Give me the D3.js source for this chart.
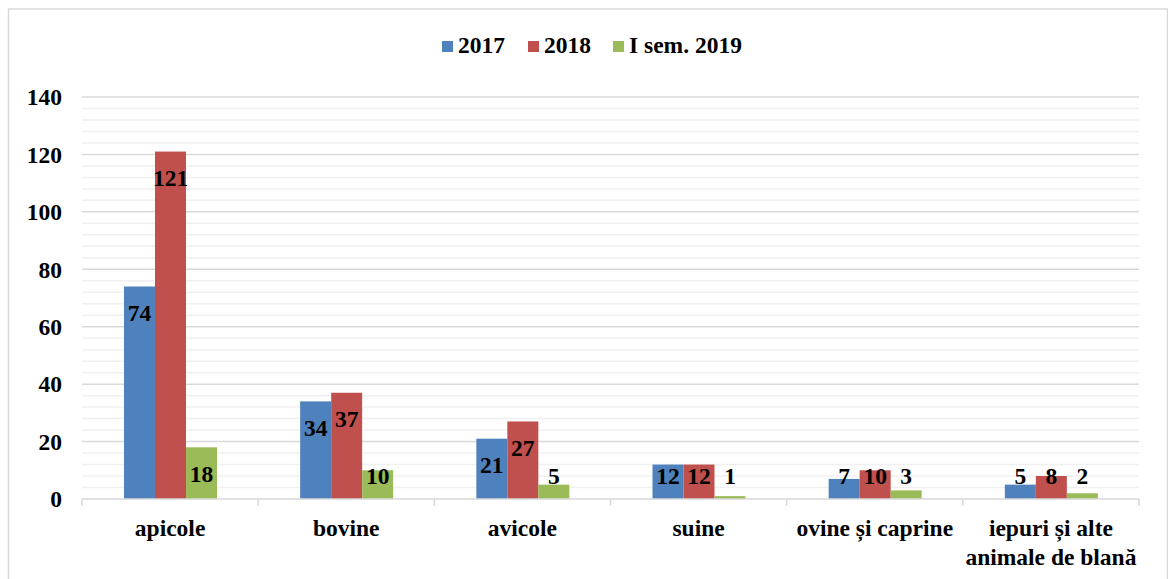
<!DOCTYPE html>
<head>
  <meta charset="utf-8">
  <script src="https://d3js.org/d3.v7.min.js"></script>
  <style>
    body { margin:0; background:#fff; }
    text { font-family: "Liberation Serif", "Times New Roman", serif; font-weight: bold; fill: #000; }
  </style>
</head>
<body>
<script>
// data
var categories = ["apicole", "bovine", "avicole", "suine", "ovine și caprine", "iepuri și alte\nanimale de blană"];
var seriesNames = ["2017", "2018", "I sem. 2019"];
var values2017 = [74, 34, 21, 12, 7, 5];
var values2018 = [121, 37, 27, 12, 10, 8];
var values2019 = [18, 10, 5, 1, 3, 2];
var colors = ["#4f81bd", "#c0504d", "#9bbb59"];
var yTicks = [0, 20, 40, 60, 80, 100, 120, 140];

var width = 1168, height = 579;
var fs = "23.5px";
var svg = d3.select("body").append("svg")
    .attr("width", width).attr("height", height);

// outer chart border
svg.append("rect")
    .attr("x", 8.5).attr("y", 9).attr("width", width - 9).attr("height", height)
    .attr("fill", "none").attr("stroke", "#d9d9d9").attr("stroke-width", 1.5);

var plotLeft = 82, plotRight = 1139, plotTop = 97, plotBottom = 499;

var y = d3.scaleLinear().domain([0, 140]).range([plotBottom, plotTop]);
var x0 = d3.scaleBand().domain(categories).range([plotLeft, plotRight]).padding(0);
var x1 = d3.scaleBand().domain(seriesNames).range([42, 135]).padding(0);

// minor gridlines every 4
svg.append("g").selectAll("line")
    .data(d3.range(4, 141, 4).filter(function(v) { return v % 20 != 0; }))
    .enter().append("line")
    .attr("x1", plotLeft).attr("x2", plotRight)
    .attr("y1", function(d) { return y(d); }).attr("y2", function(d) { return y(d); })
    .attr("stroke", "#f0f0f0").attr("stroke-width", 1.5);

// major gridlines
svg.append("g").selectAll("line")
    .data(yTicks.slice(1))
    .enter().append("line")
    .attr("x1", plotLeft).attr("x2", plotRight)
    .attr("y1", function(d) { return y(d); }).attr("y2", function(d) { return y(d); })
    .attr("stroke", "#d9d9d9").attr("stroke-width", 1.5);

// y labels
svg.append("g").selectAll("text")
    .data(yTicks)
    .enter().append("text")
    .attr("x", 62).attr("y", function(d) { return y(d); })
    .attr("dy", "0.35em").attr("text-anchor", "end")
    .style("font-size", fs)
    .text(function(d) { return d; });

// bars
var table = categories.map(function(c, i) {
  return { cat: c, vals: [values2017[i], values2018[i], values2019[i]] };
});

var groups = svg.append("g").selectAll("g")
    .data(table)
    .enter().append("g")
    .attr("transform", function(d) { return "translate(" + x0(d.cat) + ",0)"; });

groups.selectAll("rect")
    .data(function(d) { return d.vals.map(function(v, k) { return { s: seriesNames[k], v: v, k: k }; }); })
    .enter().append("rect")
    .attr("x", function(d) { return x1(d.s); })
    .attr("width", x1.bandwidth())
    .attr("y", function(d) { return y(d.v); })
    .attr("height", function(d) { return plotBottom - y(d.v); })
    .attr("fill", function(d) { return colors[d.k]; });

groups.selectAll("text")
    .data(function(d) { return d.vals.map(function(v, k) { return { s: seriesNames[k], v: v }; }); })
    .enter().append("text")
    .attr("x", function(d) { return x1(d.s) + x1.bandwidth() / 2; })
    .attr("y", function(d) { return Math.min(y(d.v) + 26, 476); })
    .attr("dy", "0.35em").attr("text-anchor", "middle")
    .style("font-size", fs)
    .text(function(d) { return d.v; });

// x axis line and ticks
svg.append("line")
    .attr("x1", plotLeft).attr("x2", plotRight).attr("y1", plotBottom).attr("y2", plotBottom)
    .attr("stroke", "#d9d9d9").attr("stroke-width", 1.5);
svg.append("g").selectAll("line")
    .data(d3.range(categories.length + 1))
    .enter().append("line")
    .attr("x1", function(i) { return plotLeft + i * x0.step(); })
    .attr("x2", function(i) { return plotLeft + i * x0.step(); })
    .attr("y1", plotBottom).attr("y2", plotBottom + 7)
    .attr("stroke", "#d9d9d9").attr("stroke-width", 1.5);

// category labels
svg.append("g").selectAll("text")
    .data(categories)
    .enter().append("text")
    .attr("x", function(d) { return x0(d) + x0.bandwidth() / 2; })
    .attr("y", 536)
    .attr("text-anchor", "middle")
    .style("font-size", fs)
    .each(function(d) {
      var t = d3.select(this);
      d.split("\n").forEach(function(line, i) {
        t.append("tspan").attr("x", x0(d) + x0.bandwidth() / 2)
          .attr("dy", i == 0 ? 0 : 29).text(line);
      });
    });

// legend
var legendX = [442, 528, 613];
var legend = svg.append("g").selectAll("g")
    .data(seriesNames)
    .enter().append("g")
    .attr("transform", function(d, i) { return "translate(" + legendX[i] + ",41)"; });
legend.append("rect")
    .attr("width", 11).attr("height", 11)
    .attr("fill", function(d, i) { return colors[i]; });
legend.append("text")
    .attr("x", 16).attr("y", 12)
    .style("font-size", fs)
    .text(function(d) { return d; });
</script>
</body>
